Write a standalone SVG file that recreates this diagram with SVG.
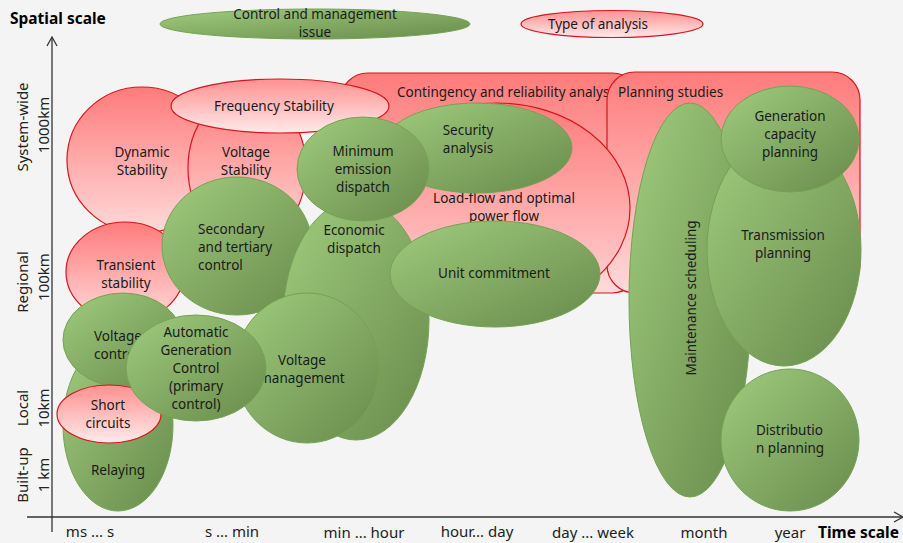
<svg xmlns="http://www.w3.org/2000/svg" width="903" height="543" viewBox="0 0 903 543">
<defs>
<linearGradient id="gG" x1="0" y1="0" x2="1" y2="1">
<stop offset="0" stop-color="#a0cc7e"/>
<stop offset="1" stop-color="#688a4b"/>
</linearGradient>
<linearGradient id="gR" x1="0" y1="0" x2="0" y2="1">
<stop offset="0" stop-color="#ff7b7b"/>
<stop offset="1" stop-color="#ffdada"/>
</linearGradient>
<linearGradient id="gRL" x1="0" y1="0" x2="0" y2="1">
<stop offset="0" stop-color="#ff9090"/>
<stop offset="1" stop-color="#ffeaea"/>
</linearGradient>
<marker id="arr" markerWidth="12" markerHeight="12" refX="10" refY="6" orient="auto" markerUnits="userSpaceOnUse">
<path d="M1,1 L10,6 L1,11" fill="none" stroke="#333" stroke-width="1.3"/>
</marker>
<style>
.g{fill:url(#gG);stroke:#73a352;stroke-width:1}
.r{fill:url(#gR);stroke:#d8141c;stroke-width:1.2}
.rl{fill:url(#gRL);stroke:#d8141c;stroke-width:1.2}
text{font-family:"Noto Sans","Open Sans","DejaVu Sans",sans-serif;font-size:13.5px;fill:#1a1a1a}
.c{text-anchor:middle}
.ax{font-size:15px;fill:#222}
.b{font-weight:bold;font-size:15.5px;fill:#000}
.axis{stroke:#333;stroke-width:1.3;fill:none}
</style>
</defs>
<rect width="903" height="543" fill="#f4f4f4"/>

<g id="legend-control">
<ellipse class="g" cx="315" cy="24" rx="155" ry="15"/>
<text class="c" x="315" y="19">Control and management</text>
<text class="c" x="315" y="37">issue</text>
</g>
<g id="legend-analysis">
<ellipse class="rl" cx="612" cy="24" rx="91" ry="13.5"/>
<text class="c" x="598" y="28.5">Type of analysis</text>
</g>

<g id="contingency">
<rect class="r" x="340" y="73" width="300" height="220" rx="28"/>
<text x="397" y="97">Contingency  and  reliability  analysis</text>
</g>
<g id="planning">
<rect class="r" x="607" y="72" width="253" height="221" rx="28"/>
<text x="618" y="97">Planning  studies</text>
</g>
<g id="loadflow">
<ellipse class="r" cx="497" cy="208" rx="133" ry="105"/>
<text class="c" x="504" y="203">Load-flow and optimal</text>
<text class="c" x="504" y="221">power flow</text>
</g>

<g id="dynamic">
<ellipse class="r" cx="142" cy="160" rx="75" ry="73"/>
<text class="c" x="142" y="157">Dynamic</text>
<text class="c" x="142" y="175">Stability</text>
</g>
<g id="voltagestab">
<ellipse class="r" cx="247" cy="168" rx="59" ry="76"/>
<text class="c" x="246" y="157">Voltage</text>
<text class="c" x="246" y="175">Stability</text>
</g>
<g id="transient">
<ellipse class="r" cx="125" cy="272" rx="59" ry="50"/>
<text class="c" x="126" y="270">Transient</text>
<text class="c" x="126" y="288">stability</text>
</g>
<g id="frequency">
<ellipse class="rl" cx="280" cy="106" rx="109" ry="27"/>
<text class="c" x="274" y="111">Frequency  Stability</text>
</g>

<g id="relaying">
<ellipse class="g" cx="118" cy="425" rx="55" ry="86"/>
<text class="c" x="118" y="475">Relaying</text>
</g>
<g id="voltagecontrol">
<ellipse class="g" cx="123" cy="340" rx="60" ry="47"/>
<text x="94" y="341">Voltage</text>
<text x="94" y="359">control</text>
</g>
<g id="shortcircuits">
<ellipse class="rl" cx="109" cy="414" rx="52" ry="29"/>
<text class="c" x="108" y="410">Short</text>
<text class="c" x="108" y="428">circuits</text>
</g>
<g id="secondary">
<ellipse class="g" cx="237" cy="246" rx="75" ry="69"/>
<text x="198" y="234">Secondary</text>
<text x="198" y="252">and tertiary</text>
<text x="198" y="270">control</text>
</g>
<g id="economic">
<ellipse class="g" cx="356" cy="320" rx="73" ry="120"/>
<text class="c" x="354" y="235">Economic</text>
<text class="c" x="354" y="253">dispatch</text>
</g>
<g id="voltagemgmt">
<ellipse class="g" cx="307" cy="368" rx="72" ry="75"/>
<text class="c" x="302" y="365">Voltage</text>
<text class="c" x="302" y="383">management</text>
</g>
<g id="agc">
<ellipse class="g" cx="196" cy="368" rx="70" ry="53"/>
<text class="c" x="196" y="337">Automatic</text>
<text class="c" x="196" y="355">Generation</text>
<text class="c" x="196" y="373">Control</text>
<text class="c" x="196" y="391">(primary</text>
<text class="c" x="196" y="409">control)</text>
</g>
<g id="security">
<ellipse class="g" cx="477" cy="148" rx="95" ry="45"/>
<text class="c" x="468" y="135">Security</text>
<text class="c" x="468" y="153">analysis</text>
</g>
<g id="minemission">
<ellipse class="g" cx="363" cy="169" rx="66" ry="52"/>
<text class="c" x="363" y="156">Minimum</text>
<text class="c" x="363" y="174">emission</text>
<text class="c" x="363" y="192">dispatch</text>
</g>
<g id="unitcommitment">
<ellipse class="g" cx="495" cy="274" rx="105" ry="53"/>
<text class="c" x="494" y="278">Unit  commitment</text>
</g>
<g id="maintenance">
<ellipse class="g" cx="690" cy="300" rx="61" ry="197"/>
<text class="c" transform="translate(696,298) rotate(-90)">Maintenance  scheduling</text>
</g>
<g id="transmission">
<ellipse class="g" cx="784" cy="250" rx="77" ry="116"/>
<text class="c" x="783" y="240">Transmission</text>
<text class="c" x="783" y="258">planning</text>
</g>
<g id="gencapacity">
<ellipse class="g" cx="790" cy="139" rx="69" ry="53"/>
<text class="c" x="790" y="121">Generation</text>
<text class="c" x="790" y="139">capacity</text>
<text class="c" x="790" y="157">planning</text>
</g>
<g id="distribution">
<ellipse class="g" cx="790" cy="440" rx="69" ry="71"/>
<text x="756" y="435">Distributio</text>
<text x="756" y="453">n planning</text>
</g>

<g id="axes">
<line class="axis" x1="52" y1="532" x2="52" y2="37" marker-end="url(#arr)"/>
<line class="axis" x1="27" y1="517" x2="903" y2="517" marker-end="url(#arr)"/>
</g>

<g id="labels">
<text class="b" x="10" y="24">Spatial scale</text>
<text class="b" x="818" y="538">Time scale</text>
<text class="ax c" transform="translate(28,127) rotate(-90)">System-wide</text>
<text class="ax c" transform="translate(49,125) rotate(-90)">1000km</text>
<text class="ax c" transform="translate(28,282) rotate(-90)">Regional</text>
<text class="ax c" transform="translate(49,277) rotate(-90)">100km</text>
<text class="ax c" transform="translate(28,408) rotate(-90)">Local</text>
<text class="ax c" transform="translate(49,408) rotate(-90)">10km</text>
<text class="ax c" transform="translate(28,475) rotate(-90)">Built-up</text>
<text class="ax c" transform="translate(49,475) rotate(-90)">1 km</text>
<text class="ax c" x="90" y="537">ms ... s</text>
<text class="ax c" x="232" y="537">s ... min</text>
<text class="ax c" x="364" y="538">min ... hour</text>
<text class="ax c" x="477" y="537">hour... day</text>
<text class="ax c" x="593" y="538">day ... week</text>
<text class="ax c" x="704" y="538">month</text>
<text class="ax c" x="790" y="538">year</text>
</g>
</svg>
